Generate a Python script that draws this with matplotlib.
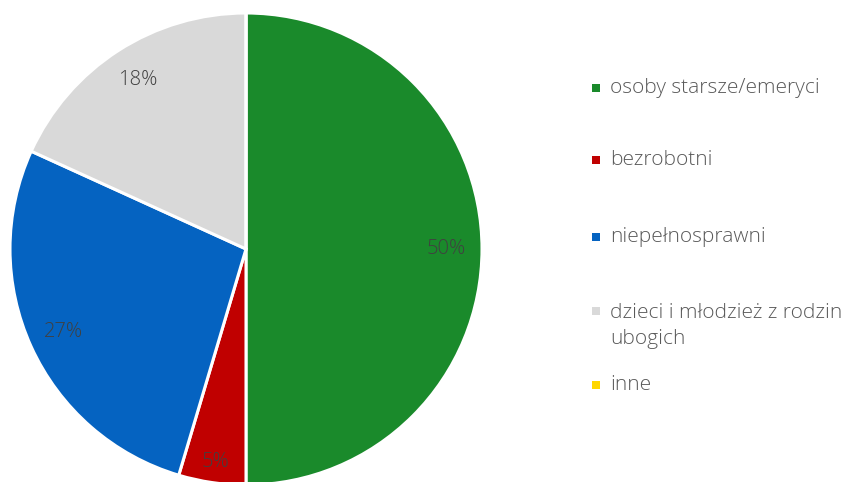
import matplotlib
matplotlib.use("Agg")
import matplotlib.pyplot as plt
from matplotlib.patches import Rectangle

categories = ["osoby starsze/emeryci", "bezrobotni", "niepełnosprawni",
              "dzieci i młodzież z rodzin\nubogich", "inne"]
values = [50, 4.6, 27.2, 18.2, 0]
colors = ["#1a8a2b", "#c00000", "#0563c1", "#d9d9d9", "#ffd700"]

plt.rcParams["font.family"] = ["Open Sans", "DejaVu Sans"]
W, H = 850, 482
fig = plt.figure(figsize=(8.5, 4.82), dpi=100)
cx, cy, r = 246, 233, 236
ax = fig.add_axes([(cx - r) / W, (cy - r) / H, 2 * r / W, 2 * r / H])

def pct(p):
    return f"{p:.0f}%" if p > 0.5 else ""

wedges, texts, autotexts = ax.pie(values, colors=colors, startangle=90, counterclock=False,
                                  autopct=pct, pctdistance=0.85, radius=1,
                                  wedgeprops=dict(edgecolor="white", linewidth=2.2),
                                  textprops=dict(color="#404040", fontsize=14.5, fontweight="light"))
# small slice label sits a bit further out, like the original
x5, y5 = autotexts[1].get_position()
autotexts[1].set_position((x5 * 0.91 / 0.85, y5 * 0.91 / 0.85))
ax.set_xlim(-1, 1); ax.set_ylim(-1, 1); ax.set_aspect("equal")

# legend drawn by hand (Excel-style spacing)
leg_y = [88, 160, 237, 311, 385]
for c, lab, yy in zip(colors, categories, leg_y):
    fig.patches.append(Rectangle((592 / W, 1 - (yy + 4) / H), 8 / W, 8 / H,
                                 transform=fig.transFigure, facecolor=c, edgecolor="none"))
    if "\n" in lab:
        fig.text(610 / W, 1 - (yy - 8) / H, lab, fontsize=15, color="#595959",
                 va="top", ha="left", fontweight="light", linespacing=1.4)
    else:
        fig.text(610 / W, 1 - yy / H, lab, fontsize=15, color="#595959",
                 va="center", ha="left", fontweight="light")
fig.savefig("out.png", dpi=100, facecolor="white")
